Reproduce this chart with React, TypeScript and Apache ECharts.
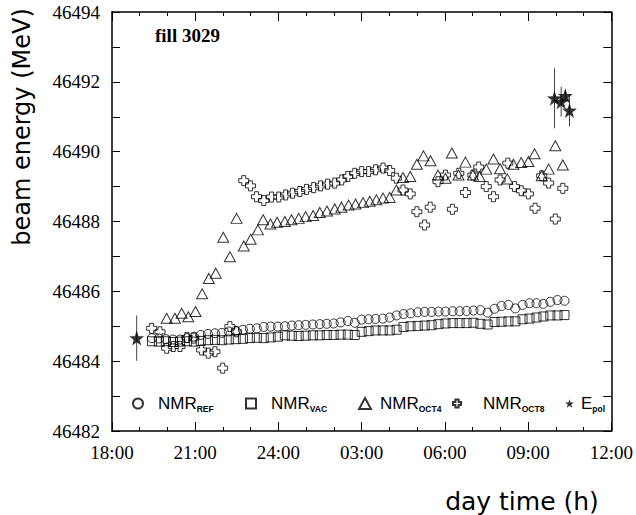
import React, { useEffect, useRef } from "react";
import * as echarts from "echarts";

// time in hours (18 = 18:00, 24 = midnight, 27 = 03:00 next day)
const nmrTimes = [19.44, 19.69, 19.94, 20.2, 20.45, 20.7, 20.95, 21.2, 21.46, 21.71, 21.96, 22.21, 22.46, 22.72, 22.97, 23.22, 23.47, 23.72, 23.98, 24.23, 24.48, 24.73, 24.98, 25.24, 25.49, 25.74, 25.99, 26.24, 26.5, 26.75, 27.0, 27.25, 27.5, 27.76, 28.01, 28.26, 28.51, 28.76, 29.02, 29.27, 29.52, 29.77, 30.02, 30.28, 30.53, 30.78, 31.03, 31.28, 31.54, 31.79, 32.04, 32.29, 32.54, 32.8, 33.05, 33.3, 33.55, 33.8, 34.06, 34.31];
const refValues = [46484.66, 46484.65, 46484.63, 46484.62, 46484.62, 46484.66, 46484.7, 46484.75, 46484.78, 46484.8, 46484.81, 46484.85, 46484.87, 46484.9, 46484.93, 46484.94, 46484.98, 46484.99, 46484.99, 46485.0, 46485.02, 46485.03, 46485.04, 46485.05, 46485.06, 46485.07, 46485.08, 46485.11, 46485.15, 46485.1, 46485.19, 46485.2, 46485.21, 46485.22, 46485.25, 46485.31, 46485.35, 46485.37, 46485.4, 46485.41, 46485.41, 46485.42, 46485.42, 46485.43, 46485.43, 46485.44, 46485.45, 46485.46, 46485.39, 46485.5, 46485.58, 46485.61, 46485.51, 46485.61, 46485.66, 46485.66, 46485.64, 46485.7, 46485.75, 46485.73];
const vacValues = [46484.57, 46484.56, 46484.57, 46484.55, 46484.56, 46484.57, 46484.56, 46484.58, 46484.6, 46484.61, 46484.6, 46484.62, 46484.63, 46484.64, 46484.66, 46484.67, 46484.66, 46484.68, 46484.7, 46484.74, 46484.73, 46484.72, 46484.73, 46484.74, 46484.74, 46484.75, 46484.75, 46484.76, 46484.76, 46484.75, 46484.84, 46484.86, 46484.88, 46484.88, 46484.88, 46484.9, 46484.98, 46485.0, 46485.01, 46485.02, 46485.03, 46485.06, 46485.08, 46485.09, 46485.09, 46485.09, 46485.1, 46485.07, 46485.05, 46485.12, 46485.13, 46485.14, 46485.14, 46485.2, 46485.22, 46485.25, 46485.28, 46485.31, 46485.31, 46485.32];

const oct4Times = [19.97, 20.27, 20.51, 20.75, 21.01, 21.25, 21.49, 21.74, 22.01, 22.25, 22.49, 22.75, 23.0, 23.26, 23.45, 23.71, 23.95, 24.23, 24.47, 24.73, 24.98, 25.25, 25.49, 25.75, 26.03, 26.27, 26.53, 26.78, 27.05, 27.29, 27.53, 27.77, 28.01, 28.25, 28.49, 28.75, 28.99, 29.23, 29.48, 29.75, 30.02, 30.25, 30.49, 30.74, 31.01, 31.25, 31.49, 31.75, 31.99, 32.25, 32.47, 32.75, 33.01, 33.23, 33.49, 33.74, 33.98, 34.25];
const oct4Values = [46485.23, 46485.23, 46485.37, 46485.27, 46485.42, 46485.93, 46486.37, 46486.52, 46487.55, 46486.99, 46488.09, 46487.3, 46487.49, 46487.76, 46488.05, 46487.93, 46487.98, 46488.0, 46488.05, 46488.09, 46488.14, 46488.17, 46488.26, 46488.3, 46488.36, 46488.41, 46488.47, 46488.5, 46488.54, 46488.58, 46488.62, 46488.67, 46488.69, 46488.9, 46489.26, 46489.29, 46489.64, 46489.88, 46489.74, 46489.33, 46489.24, 46489.96, 46489.33, 46489.7, 46489.33, 46489.29, 46489.5, 46489.79, 46489.51, 46489.22, 46489.64, 46489.69, 46489.72, 46489.94, 46489.31, 46489.5, 46490.17, 46489.62];

const oct8Times = [19.43, 19.73, 19.97, 20.21, 20.45, 20.7, 20.95, 21.23, 21.47, 21.71, 21.99, 22.25, 22.49, 22.75, 22.99, 23.21, 23.47, 23.75, 24.01, 24.26, 24.51, 24.77, 25.01, 25.27, 25.52, 25.77, 26.03, 26.28, 26.5, 26.75, 27.0, 27.25, 27.5, 27.77, 28.01, 28.25, 28.49, 28.75, 28.99, 29.27, 29.47, 29.75, 30.02, 30.27, 30.5, 30.74, 31.01, 31.22, 31.49, 31.75, 31.99, 32.27, 32.51, 32.75, 33.01, 33.25, 33.49, 33.74, 33.98, 34.25];
const oct8Values = [46484.94, 46484.84, 46484.37, 46484.42, 46484.42, 46484.68, 46484.66, 46484.32, 46484.23, 46484.27, 46483.8, 46484.99, 46484.84, 46489.17, 46489.02, 46488.71, 46488.6, 46488.7, 46488.7, 46488.76, 46488.81, 46488.86, 46488.92, 46488.97, 46489.02, 46489.07, 46489.1, 46489.19, 46489.29, 46489.38, 46489.43, 46489.43, 46489.48, 46489.53, 46489.46, 46489.24, 46488.9, 46488.79, 46488.28, 46487.9, 46488.41, 46489.14, 46489.33, 46488.35, 46489.38, 46488.83, 46489.33, 46489.56, 46489.0, 46488.71, 46489.19, 46489.67, 46489.0, 46488.88, 46488.79, 46488.38, 46489.31, 46489.1, 46488.07, 46488.95];

const polTimes = [18.89, 33.95, 34.19, 34.34, 34.49];
const polValues = [46484.66, 46491.53, 46491.43, 46491.6, 46491.18];
const polErrors = [0.65, 0.86, 0.43, 0.15, 0.46];

const yTicks = [46482, 46484, 46486, 46488, 46490, 46492, 46494];
const xTickHours = [18, 21, 24, 27, 30, 33, 36];

const crossPath = "path://M3,0H7V3H10V7H7V10H3V7H0V3H3Z";
const starPath = "path://M12,0L14.9,8.6L24,8.8L16.7,14.2L19.4,23L12,17.8L4.6,23L7.3,14.2L0,8.8L9.1,8.6Z";

const pairs = (t: number[], v: number[]) => t.map((x, i) => [x, v[i]]);

const fmtHour = (v: number) => {
  const h = v > 24 ? v - 24 : v;
  return (h < 10 ? "0" : "") + h + ":00";
};

export default function App() {
  const ref = useRef<HTMLDivElement>(null);
  useEffect(() => {
    if (!ref.current) return;
    const chart = echarts.init(ref.current, null, { renderer: "svg" });
    const open = { color: "transparent", borderColor: "#000", borderWidth: 1 };
    const axisLine = { show: true, lineStyle: { color: "#000", width: 1.5 } };
    const legendText = (gap: number) => ({
      color: "#000",
      rich: {
        g: { width: gap },
        m: { fontSize: 17, fontFamily: "Liberation Sans", color: "#000", lineHeight: 20 },
        s: { fontSize: 8.5, fontWeight: "bold", fontFamily: "Liberation Sans", color: "#000", verticalAlign: "bottom", lineHeight: 12 },
      },
    });
    const legendFmt = (name: string) => {
      const [a, b] = name.split("_");
      return `{g|}{m|${a}}{s|${b}}`;
    };
    const mkLegend = (name: string, icon: string, left: number, w: number, h: number, gap: number) => ({
      data: [{ name, icon }],
      left,
      top: 395,
      padding: 0,
      itemWidth: w,
      itemHeight: h,
      formatter: legendFmt,
      textStyle: legendText(gap),
      selectedMode: false,
    });
    const option: any = {
      animation: false,
      backgroundColor: "#fff",
      grid: { left: 112, right: 24, top: 12, bottom: 84, containLabel: false },
      legend: [
        mkLegend("NMR_REF", "circle", 132, 10, 10, 10),
        mkLegend("NMR_VAC", "rect", 245, 10, 10, 10),
        mkLegend("NMR_OCT4", "triangle", 358, 12, 11, 4),
        mkLegend("NMR_OCT8", crossPath, 452, 8, 8, 17),
        mkLegend("E_pol", starPath, 565, 9, 9, 2),
      ],
      xAxis: [
        {
          type: "value",
          min: xTickHours[0],
          max: xTickHours[xTickHours.length - 1],
          interval: 3,
          position: "bottom",
          axisLine,
          axisTick: { show: true, inside: true, length: 9, lineStyle: { color: "#000", width: 1 } },
          minorTick: { show: true, splitNumber: 3, length: 4, lineStyle: { color: "#000", width: 1 } },
          splitLine: { show: false },
          axisLabel: {
            formatter: fmtHour,
            fontFamily: "Liberation Serif",
            fontSize: 19,
            color: "#000",
            margin: 12,
          },
        },
        {
          type: "value",
          min: xTickHours[0],
          max: xTickHours[xTickHours.length - 1],
          interval: 3,
          position: "top",
          axisLine,
          axisTick: { show: true, inside: true, length: 9, lineStyle: { color: "#000", width: 1 } },
          minorTick: { show: true, splitNumber: 3, length: 4, lineStyle: { color: "#000", width: 1 } },
          splitLine: { show: false },
          axisLabel: { show: false },
        },
      ],
      yAxis: [
        {
          type: "value",
          min: yTicks[0],
          max: yTicks[yTicks.length - 1],
          interval: 1,
          position: "left",
          axisLine,
          axisTick: { show: true, inside: true, length: 8, lineStyle: { color: "#000", width: 1 } },
          splitLine: { show: false },
          axisLabel: {
            formatter: (v: number) => (yTicks.includes(Math.round(v)) ? String(Math.round(v)) : ""),
            fontFamily: "Liberation Serif",
            fontSize: 19,
            color: "#000",
            margin: 12,
          },
        },
        {
          type: "value",
          min: yTicks[0],
          max: yTicks[yTicks.length - 1],
          interval: 1,
          position: "right",
          axisLine,
          axisTick: { show: true, inside: true, length: 8, lineStyle: { color: "#000", width: 1 } },
          splitLine: { show: false },
          axisLabel: { show: false },
        },
      ],
      series: [
        {
          name: "NMR_REF",
          type: "scatter",
          symbol: "circle",
          symbolSize: 9,
          itemStyle: open,
          data: pairs(nmrTimes, refValues),
        },
        {
          name: "NMR_VAC",
          type: "scatter",
          symbol: "rect",
          symbolSize: 9,
          itemStyle: open,
          data: pairs(nmrTimes, vacValues),
        },
        {
          name: "NMR_OCT4",
          type: "scatter",
          symbol: "triangle",
          symbolSize: [11, 10],
          itemStyle: open,
          data: pairs(oct4Times, oct4Values),
        },
        {
          name: "NMR_OCT8",
          type: "scatter",
          symbol: crossPath,
          symbolSize: 10,
          itemStyle: open,
          data: pairs(oct8Times, oct8Values),
        },
        {
          name: "E_pol_err",
          type: "custom",
          renderItem: (params: any, api: any) => {
            const x = api.value(0);
            const y = api.value(1);
            const e = api.value(2);
            const p1 = api.coord([x, y - e]);
            const p2 = api.coord([x, y + e]);
            return {
              type: "line",
              shape: { x1: p1[0], y1: p1[1], x2: p2[0], y2: p2[1] },
              style: { stroke: "#444", lineWidth: 1 },
            };
          },
          data: polTimes.map((t, i) => [t, polValues[i], polErrors[i]]),
          z: 3,
        },
        {
          name: "E_pol",
          type: "scatter",
          symbol: starPath,
          symbolSize: 15,
          itemStyle: { color: "#000", borderColor: "#000", borderWidth: 0 },
          data: pairs(polTimes, polValues),
          z: 4,
        },
      ],
      graphic: [
        {
          type: "text",
          left: 155,
          top: 26,
          style: { text: "fill 3029", font: 'bold 19px "Liberation Serif"', fill: "#000" },
        },
        {
          type: "text",
          x: 22,
          y: 127,
          rotation: Math.PI / 2,
          style: {
            text: "beam energy (MeV)",
            font: '24px "DejaVu Sans"',
            fill: "#000",
            align: "center",
            verticalAlign: "middle",
            textAlign: "center",
            textVerticalAlign: "middle",
          },
        },
        {
          type: "text",
          x: 522,
          y: 501,
          style: {
            text: "day time (h)",
            font: '25px "DejaVu Sans"',
            fill: "#000",
            align: "center",
            verticalAlign: "middle",
            textAlign: "center",
            textVerticalAlign: "middle",
          },
        },
      ],
    };
    chart.setOption(option);
    return () => chart.dispose();
  }, []);
  return (
    <div
      ref={ref}
      style={{ position: "absolute", left: 0, top: 0, width: 636, height: 515, background: "#fff" }}
    />
  );
}
